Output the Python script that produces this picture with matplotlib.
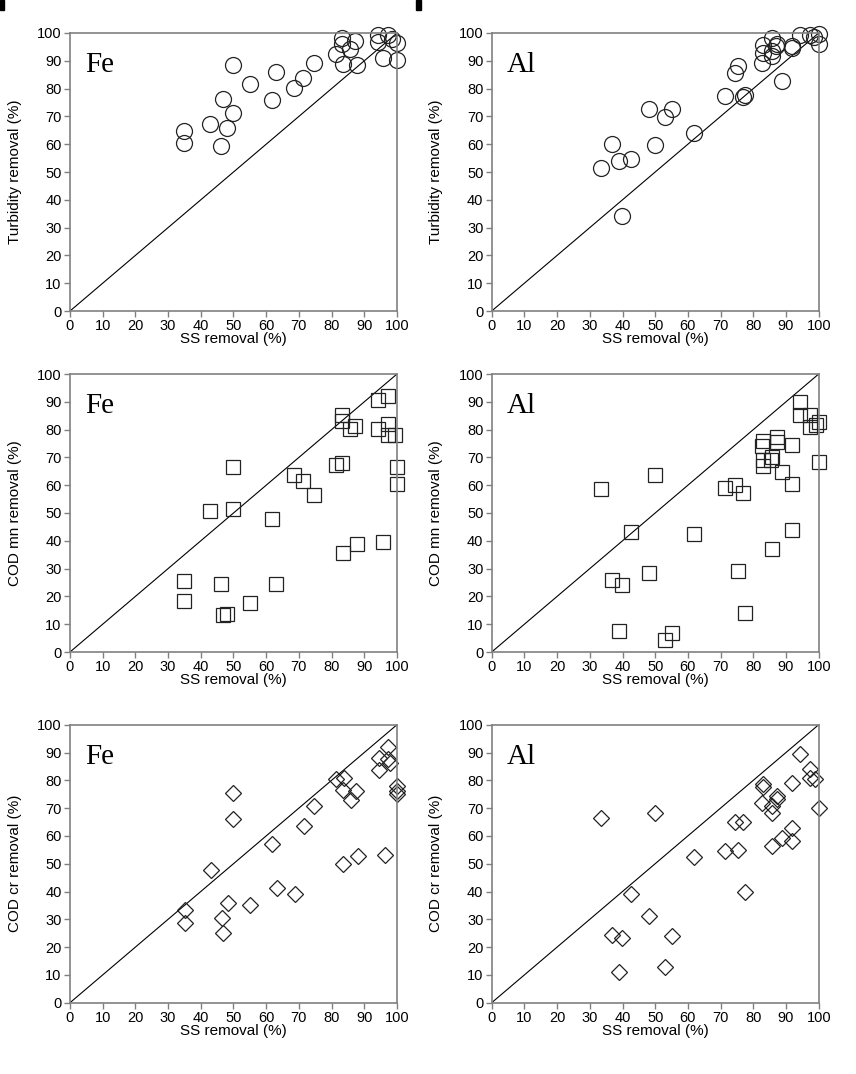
import matplotlib
matplotlib.use("Agg")
import matplotlib.pyplot as plt
from matplotlib.patches import Rectangle

plt.rcParams['font.family'] = ['Liberation Sans', 'DejaVu Sans']

# Fe - turbidity
fe_ss_turb = [34.9, 34.9, 42.7, 46.1, 46.7, 48.1, 49.7, 49.7, 54.9, 61.7, 63.1, 68.4, 71.4, 74.5,
              81.4, 83.2, 83.2, 83.5, 85.6, 87.2, 87.7, 94.3, 94.3, 95.7, 97.3, 98.5, 100, 100]
fe_turb = [64.7, 60.5, 67.3, 59.5, 76.3, 65.9, 88.5, 71.4, 81.6, 76.0, 86.1, 80.1, 83.8, 89.1,
           92.6, 98.1, 96.2, 89.0, 94.4, 97.0, 88.6, 99.2, 96.8, 91.1, 99.3, 98.0, 96.4, 90.2]

# Al - turbidity
al_ss_turb = [33.3, 36.9, 38.8, 39.8, 42.7, 48.1, 49.9, 53.0, 55.0, 61.9, 71.3, 74.3, 75.4, 76.8,
              77.5, 82.6, 83.1, 83.1, 85.7, 85.7, 85.7, 87.3, 87.0, 88.8, 91.8, 91.9, 94.4, 97.2,
              98.5, 100, 100]
al_turb = [51.5, 60.1, 54.1, 34.0, 54.7, 72.8, 59.8, 69.7, 72.5, 64.0, 77.2, 85.7, 88.3, 77.1,
           77.7, 89.1, 92.8, 95.6, 98.1, 91.6, 93.5, 96.2, 95.5, 82.8, 94.7, 95.3, 99.2, 99.2,
           98.5, 99.5, 96.2]

# Fe - COD mn
fe_ss_codmn = [34.9, 34.9, 42.7, 46.1, 46.7, 48.1, 49.7, 49.7, 54.9, 61.7, 63.1, 68.4, 71.4, 74.5,
               81.4, 83.2, 83.2, 83.2, 83.5, 85.6, 87.2, 87.7, 94.3, 94.3, 95.7, 97.3, 97.3, 97.3,
               99.5, 100, 100]
fe_codmn = [25.7, 18.5, 50.7, 24.4, 13.3, 13.5, 66.5, 51.4, 17.5, 47.8, 24.6, 63.8, 61.6, 56.4,
            67.1, 67.9, 85.4, 83.2, 35.6, 80.2, 81.4, 38.8, 90.8, 80.2, 39.6, 92.0, 82.1, 78.2,
            78.2, 66.7, 60.4]

# Al - COD mn
al_ss_codmn = [33.3, 36.9, 38.8, 39.8, 42.7, 48.1, 49.9, 53.0, 55.0, 61.9, 71.3, 74.4, 75.4, 76.8,
               77.5, 82.6, 83.1, 83.1, 83.1, 85.7, 85.7, 85.5, 87.3, 87.3, 88.8, 91.8, 91.8, 91.8,
               94.4, 94.4, 97.2, 97.2, 99.3, 100, 100]
al_codmn = [58.5, 25.9, 7.7, 24.0, 43.2, 28.3, 63.8, 4.2, 6.8, 42.4, 59.1, 60.1, 29.1, 57.1,
            14.1, 74.1, 75.8, 68.9, 67.0, 37.1, 70.0, 69.2, 77.3, 75.5, 64.9, 74.6, 60.3, 43.9,
            89.9, 85.4, 85.4, 81.1, 81.8, 82.7, 68.5]

# Fe - COD cr
fe_ss_codcr = [35.2, 35.2, 43.0, 46.4, 46.8, 48.4, 50.0, 50.0, 55.1, 61.9, 63.4, 68.7, 71.6, 74.6,
               81.4, 83.7, 83.5, 83.6, 85.8, 87.6, 88.1, 94.5, 94.5, 97.3, 97.8, 97.3, 96.2,
               100, 100, 100]
fe_codcr = [33.4, 28.6, 47.7, 30.5, 25.2, 35.8, 75.4, 65.9, 35.1, 57.1, 41.2, 39.0, 63.6, 70.8,
            80.4, 80.8, 76.6, 49.9, 73.0, 76.0, 52.6, 88.2, 83.8, 91.8, 86.2, 87.8, 53.2,
            78.0, 76.0, 75.1]

# Al - COD cr
al_ss_codcr = [33.3, 36.8, 39.0, 39.8, 42.7, 48.1, 49.9, 53.0, 55.0, 62.0, 71.3, 74.4, 75.4, 76.8,
               77.5, 82.6, 83.1, 83.1, 85.7, 85.7, 85.7, 87.3, 87.3, 88.8, 91.8, 91.8, 91.8,
               94.4, 97.2, 97.2, 99.0, 100]
al_codcr = [66.5, 24.5, 11.0, 23.3, 39.1, 31.3, 68.2, 12.7, 24.0, 52.3, 54.4, 64.9, 54.9, 65.1,
            39.8, 71.7, 78.8, 77.6, 68.2, 56.4, 70.6, 74.3, 73.1, 59.2, 79.1, 62.8, 58.0,
            89.4, 84.2, 80.8, 80.5, 70.0]

panels = [
    (fe_ss_turb, fe_turb, "o", 11.5, "Fe", "Turbidity removal (%)"),
    (al_ss_turb, al_turb, "o", 11.5, "Al", "Turbidity removal (%)"),
    (fe_ss_codmn, fe_codmn, "s", 9.5, "Fe", "COD mn removal (%)"),
    (al_ss_codmn, al_codmn, "s", 9.5, "Al", "COD mn removal (%)"),
    (fe_ss_codcr, fe_codcr, "D", 8.0, "Fe", "COD cr removal (%)"),
    (al_ss_codcr, al_codcr, "D", 8.0, "Al", "COD cr removal (%)"),
]

fig = plt.figure(figsize=(8.56, 10.74), dpi=100)

lefts = [70 / 856, 491.7 / 856]
bottoms = [1 - 311 / 1074, 1 - 652 / 1074, 1 - 1002.7 / 1074]
w = 327 / 856
h = 278 / 1074

for i, (x, y, marker, ms, metal, ylabel) in enumerate(panels):
    ax = fig.add_axes([lefts[i % 2], bottoms[i // 2], w, h])
    ax.plot([0, 100], [0, 100], color="black", lw=0.8, zorder=1)
    ax.plot(x, y, linestyle="none", marker=marker, markersize=ms, markerfacecolor="none",
            markeredgecolor="#222222", markeredgewidth=0.9, zorder=2, clip_on=False)
    ax.set_xlim(0, 100)
    ax.set_ylim(0, 100)
    ax.set_xticks(range(0, 101, 10))
    ax.set_yticks(range(0, 101, 10))
    for s in ax.spines.values():
        s.set_color("#808080")
        s.set_linewidth(1.2)
    ax.tick_params(direction="out", length=4, width=1, color="#808080", labelsize=10.5, pad=2)
    ax.set_xlabel("SS removal (%)", fontsize=11, labelpad=-1)
    ax.set_ylabel(ylabel, fontsize=11, labelpad=11)
    ax.text(0.045, 0.86, metal, transform=ax.transAxes, fontsize=21,
            family=["Liberation Serif", "DejaVu Serif"], va="baseline")

# dark marks at the top edge of the scan
fig.add_artist(Rectangle((0, 1 - 10 / 1074), 4 / 856, 10 / 1074, transform=fig.transFigure,
                         color="black"))
fig.add_artist(Rectangle((416 / 856, 1 - 10 / 1074), 5 / 856, 10 / 1074, transform=fig.transFigure,
                         color="black"))

fig.savefig("out.png", dpi=100)
